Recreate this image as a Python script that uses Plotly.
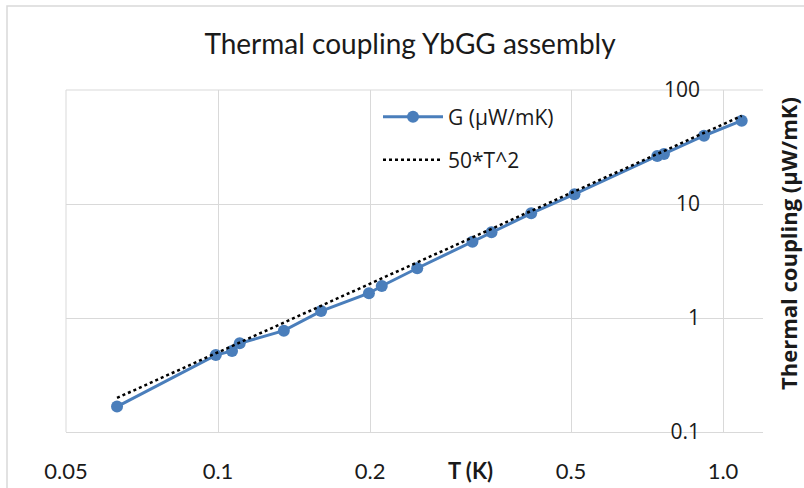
import math
import plotly.graph_objects as go

# ---- data ----
T_K = [0.0631, 0.0990, 0.1066, 0.1104, 0.135, 0.160, 0.199, 0.211, 0.248,
       0.319, 0.348, 0.417, 0.508, 0.741, 0.764, 0.917, 1.089]
G_uW_mK = [0.167, 0.473, 0.514, 0.600, 0.774, 1.15, 1.65, 1.91, 2.73,
           4.67, 5.65, 8.28, 12.2, 26.4, 27.5, 39.7, 53.8]

# 50*T^2 reference line, end points
T_fit = [0.0631, 1.089]
G_fit = [0.199, 59.3]

X_TICKS = [0.05, 0.1, 0.2, 0.5, 1.0]
X_TICK_LABELS = ["0.05", "0.1", "0.2", "0.5", "1.0"]
Y_TICKS = [0.1, 1, 10, 100]
Y_TICK_LABELS = ["0.1", "1", "10", "100"]

BLUE = "#4a7ebb"
GRID = "#d9d9d9"
TXT = "#1a1a1a"

# plot-area pixel frame
L, R, T, B = 66, 763, 90, 432
PW, PH = R - L, B - T


def px(xp):
    return (xp - L) / PW


def py(yp):
    return (B - yp) / PH


fig = go.Figure()
fig.add_trace(go.Scatter(
    x=T_K, y=G_uW_mK, mode="lines+markers", name="G (µW/mK)",
    line=dict(color=BLUE, width=3),
    marker=dict(color=BLUE, size=12),
    legend="legend",
))
fig.add_trace(go.Scatter(
    x=T_fit, y=G_fit, mode="lines", name="50*T^2",
    line=dict(color="black", width=2.5, dash="dot"),
    legend="legend2",
))

fig.update_layout(
    width=804, height=488,
    margin=dict(l=L, r=804 - R, t=T, b=488 - B, autoexpand=False),
    paper_bgcolor="white", plot_bgcolor="white",
    title=dict(text="Thermal coupling YbGG assembly",
               font=dict(family="Lato", size=28, color=TXT),
               x=0.51, xanchor="center", y=1 - 44 / 488, yanchor="middle"),
    xaxis=dict(type="log", range=[math.log10(0.05), math.log10(1.2)],
               tickvals=X_TICKS, ticktext=X_TICK_LABELS,
               showgrid=True, gridcolor=GRID, gridwidth=1,
               showline=True, linecolor=GRID, linewidth=1,
               zeroline=False, ticks="", automargin=False,
               ticklabelstandoff=20,
               tickfont=dict(family="Lato", size=22, color=TXT)),
    yaxis=dict(type="log", range=[-1, 2],
               tickvals=Y_TICKS, ticktext=Y_TICK_LABELS,
               showgrid=True, gridcolor=GRID, gridwidth=1,
               showline=False, zeroline=False, ticks="", automargin=False,
               anchor="free", position=px(724), side="left",
               ticklabelstandoff=24,
               tickfont=dict(family="Open Sans", size=21, color=TXT)),
    showlegend=True,
    legend=dict(x=px(378), y=py(117), xanchor="left", yanchor="middle",
                itemwidth=60, bgcolor="rgba(0,0,0,0)",
                font=dict(family="Open Sans", size=21, color=TXT)),
    legend2=dict(x=px(378), y=py(160), xanchor="left", yanchor="middle",
                 itemwidth=60, bgcolor="rgba(0,0,0,0)",
                 font=dict(family="Open Sans", size=21, color=TXT)),
    annotations=[
        dict(text="<b>T (K)</b>", xref="paper", yref="paper",
             x=px(470), y=py(470), xanchor="center", yanchor="middle",
             showarrow=False, font=dict(family="Lato", size=22, color=TXT)),
        dict(text="<b>Thermal coupling (µW/mK)</b>", xref="paper", yref="paper",
             x=px(805), y=py(244), xanchor="right", yanchor="middle",
             textangle=-90, showarrow=False,
             font=dict(family="Open Sans", size=22, color=TXT)),
    ],
    shapes=[
        dict(type="rect", xref="paper", yref="paper",
             x0=px(7), x1=1.3, y0=-0.6, y1=py(6),
             line=dict(color=GRID, width=1.5), layer="below"),
        dict(type="line", xref="paper", yref="paper",
             x0=0, x1=0, y0=0, y1=1, line=dict(color=GRID, width=1), layer="below"),
        dict(type="line", xref="paper", yref="paper",
             x0=0, x1=1, y0=1, y1=1, line=dict(color=GRID, width=1), layer="below"),
    ],
)

fig.write_html(
    "out.html",
    config={"displayModeBar": False},
    post_script="document.body.style.margin='0';document.body.style.overflow='hidden';",
)
